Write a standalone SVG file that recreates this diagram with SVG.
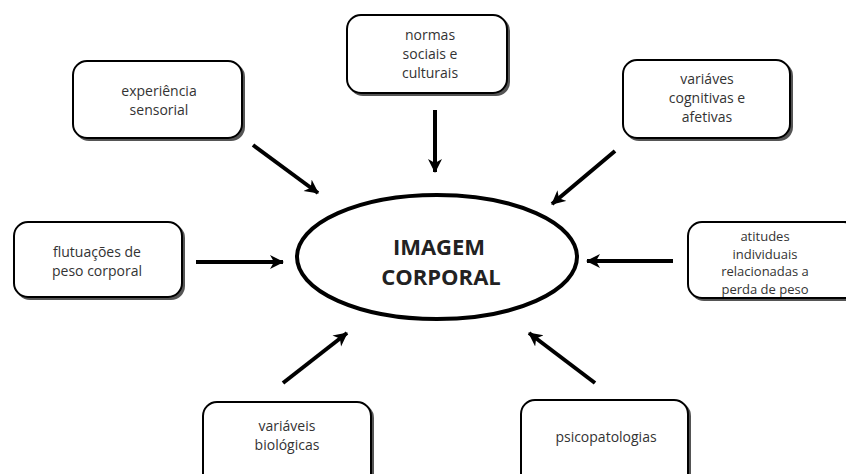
<svg xmlns="http://www.w3.org/2000/svg" width="846" height="474" viewBox="0 0 846 474">
<defs>
<style>
.box{fill:#fff;stroke:#000;stroke-width:2}
.sh{fill:#555}
.t{font-family:"Open Sans","Liberation Sans",sans-serif;font-size:14px;fill:#333;text-anchor:middle}
.s{font-size:13px}
.c{font-family:"Open Sans","Liberation Sans",sans-serif;font-size:22px;font-weight:bold;fill:#222;text-anchor:middle}
.ar{stroke:#000;stroke-width:4;fill:none;marker-end:url(#ah)}
</style>
<marker id="ah" markerUnits="userSpaceOnUse" markerWidth="16" markerHeight="16" refX="13" refY="7" orient="auto">
<path d="M0,0 L14,7 L0,14 L4,7 z" fill="#000"/>
</marker>
</defs>
<rect width="846" height="474" fill="#fff"/>
<g id="connectors">
<line class="ar" x1="253" y1="145" x2="318" y2="193"/>
<line class="ar" x1="435" y1="110" x2="435" y2="172"/>
<line class="ar" x1="615" y1="151" x2="552" y2="204"/>
<line class="ar" x1="196" y1="262" x2="283" y2="262"/>
<line class="ar" x1="673" y1="261" x2="587" y2="261"/>
<line class="ar" x1="283" y1="383" x2="347" y2="333"/>
<line class="ar" x1="595" y1="383" x2="529" y2="333"/>
</g>
<g id="center">
<ellipse cx="437" cy="257" rx="140" ry="62" fill="#fff" stroke="#000" stroke-width="4"/>
<text class="c" x="439" y="255">IMAGEM</text>
<text class="c" x="441" y="285">CORPORAL</text>
</g>
<g id="n1">
<rect class="sh" x="75" y="63" width="170" height="78" rx="14"/>
<rect class="box" x="73" y="61" width="169" height="77" rx="14"/>
<text class="t" x="159" y="96">experiência</text>
<text class="t" x="159" y="115">sensorial</text>
</g>
<g id="n2">
<rect class="sh" x="349" y="17" width="161" height="79" rx="14"/>
<rect class="box" x="347" y="15" width="160" height="78" rx="14"/>
<text class="t" x="430" y="40">normas</text>
<text class="t" x="430" y="59">sociais e</text>
<text class="t" x="430" y="78">culturais</text>
</g>
<g id="n3">
<rect class="sh" x="625" y="62" width="168" height="79" rx="14"/>
<rect class="box" x="623" y="60" width="167" height="78" rx="14"/>
<text class="t" x="707" y="84">variáves</text>
<text class="t" x="707" y="103">cognitivas e</text>
<text class="t" x="707" y="122">afetivas</text>
</g>
<g id="n4">
<rect class="sh" x="16" y="224" width="169" height="76" rx="14"/>
<rect class="box" x="14" y="222" width="168" height="75" rx="14"/>
<text class="t" x="97" y="257">flutuações de</text>
<text class="t" x="97" y="276">peso corporal</text>
</g>
<g id="n5">
<rect class="sh" x="690" y="224" width="170" height="77" rx="14"/>
<rect class="box" x="688" y="222" width="170" height="76" rx="14"/>
<text class="t s" x="765" y="241">atitudes</text>
<text class="t s" x="765" y="258.5">individuais</text>
<text class="t s" x="765" y="276">relacionadas a</text>
<text class="t s" x="765" y="293.5">perda de peso</text>
</g>
<g id="n6">
<rect class="sh" x="205" y="404" width="169" height="90" rx="14"/>
<rect class="box" x="203" y="402" width="168" height="90" rx="14"/>
<text class="t" x="287" y="431">variáveis</text>
<text class="t" x="287" y="450">biológicas</text>
</g>
<g id="n7">
<rect class="sh" x="523" y="402" width="168" height="90" rx="14"/>
<rect class="box" x="521" y="400" width="167" height="90" rx="14"/>
<text class="t" x="606" y="442">psicopatologias</text>
</g>
</svg>
